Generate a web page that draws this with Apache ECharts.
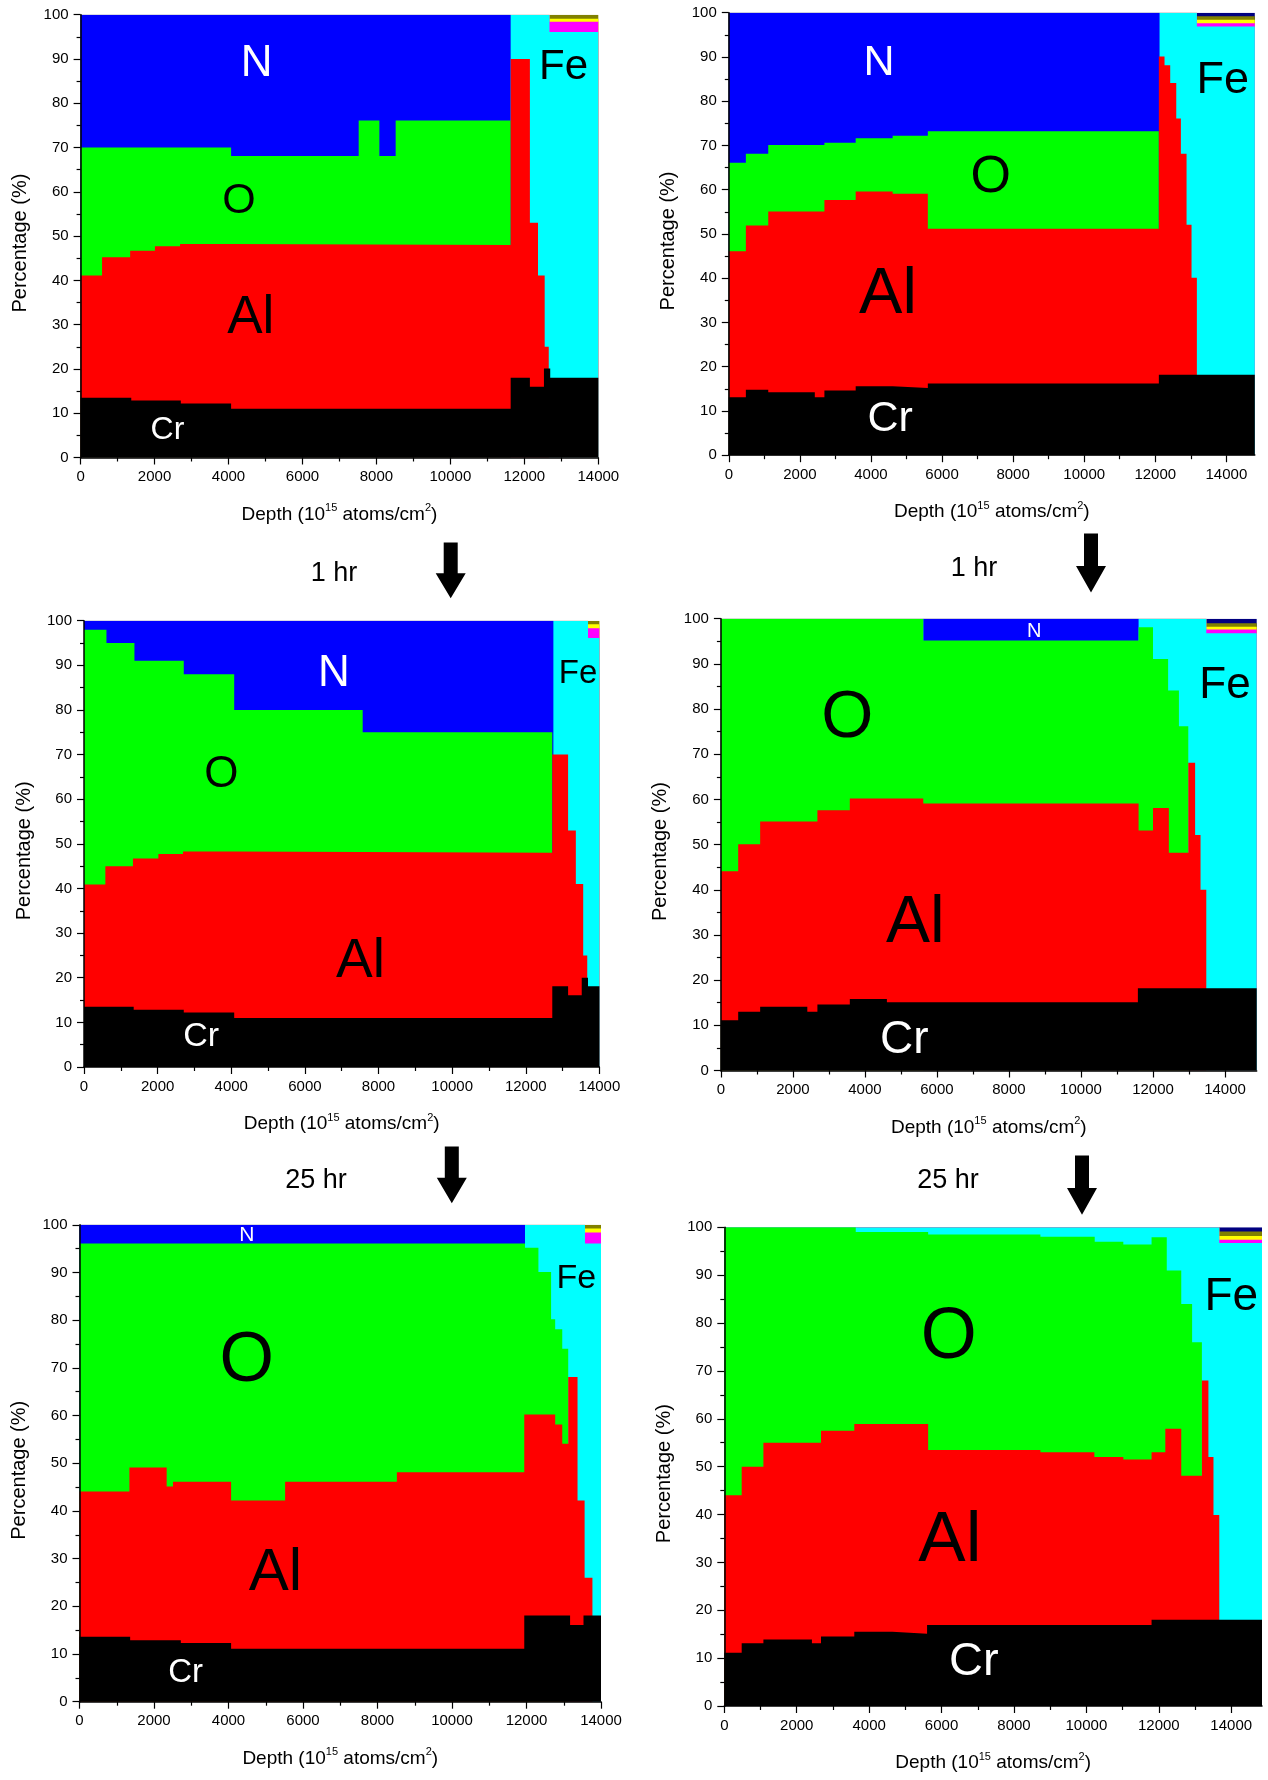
<!DOCTYPE html>
<html>
<head>
<meta charset="utf-8">
<script src="https://cdn.jsdelivr.net/npm/echarts@6/dist/echarts.min.js"></script>
<style>
html, body { margin: 0; padding: 0; background: #fff; }
#chart { width: 1268px; height: 1780px; }
</style>
</head>
<body>
<div id="chart"></div>
<script>
// step profiles: [depth where the step starts, cumulative top of the layer in %]
// panel 1 - as deposited, sample A
const p1Cr = [[0, 13.5], [1370, 12.9], [2710, 12.2], [4070, 11.0], [11630, 18.0], [12150, 16.0], [12530, 20.1], [12700, 18.0]]
const p1Al = [[0, 41.1], [580, 45.2], [1340, 46.7], [2010, 47.7], [2690, 48.2], [4070, 48.0], [11630, 90.0], [12150, 53.0], [12370, 41.1], [12550, 25.0], [12660, 0]]
const p1O = [[0, 70.0], [4070, 68.1], [7520, 76.1], [8080, 68.1], [8520, 76.1], [11630, 0]]
const p1N = [[0, 100], [11630, 0]]
const p1Fe = [[0, 100], [12680, 96.1]]
const p1Magenta = [[0, 100], [12680, 98.4]]
const p1Yellow = [[0, 100], [12680, 99.1]]
const p1Olive = [[0, 100]]

// panel 2 - as deposited, sample B
const p2Cr = [[0, 13.1], [480, 14.8], [1110, 14.2], [2420, 13.1], [2690, 14.6], [3570, 15.6], [4610, 15.2], [5600, 16.2], [12100, 18.2]]
const p2Al = [[0, 46.1], [480, 51.9], [1110, 55.1], [2690, 57.7], [3570, 59.6], [4610, 59.1], [5600, 51.2], [12100, 90.1], [12260, 88.1], [12420, 84.1], [12590, 76.1], [12720, 68.1], [12880, 52.1], [13020, 40.1], [13170, 0]]
const p2O = [[0, 66.1], [480, 68.1], [1110, 70.1], [2690, 70.6], [3570, 71.6], [4610, 72.2], [5600, 73.2], [12100, 0]]
const p2N = [[0, 100], [12120, 0]]
const p2Fe = [[0, 100], [13170, 96.9]]
const p2Magenta = [[0, 100], [13170, 97.6]]
const p2Yellow = [[0, 100], [13170, 98.4]]
const p2Olive = [[0, 100], [13170, 99.2]]
const p2Navy = [[0, 100]]

// panel 3 - sample A after 1 hr
const p3Cr = [[0, 13.5], [1350, 12.8], [2710, 12.2], [4080, 11.0], [12720, 18.1], [13150, 16.1], [13520, 20.0], [13690, 18.1]]
const p3Al = [[0, 40.9], [580, 45.0], [1330, 46.7], [2020, 47.7], [2690, 48.3], [4050, 48.0], [12720, 70.0], [13150, 53.0], [13360, 41.0], [13560, 25.0], [13670, 0]]
const p3O = [[0, 98.0], [610, 95.0], [1370, 91.0], [2710, 88.0], [4080, 80.0], [7570, 75.0], [12720, 0]]
const p3N = [[0, 100], [12750, 0]]
const p3Fe = [[0, 100], [13690, 96.1]]
const p3Magenta = [[0, 100], [13690, 98.3]]
const p3Yellow = [[0, 100], [13690, 99.2]]
const p3Olive = [[0, 100]]

// panel 4 - sample B after 1 hr
const p4Cr = [[0, 11.1], [480, 13.0], [1090, 14.1], [2400, 13.0], [2680, 14.6], [3580, 15.8], [4610, 15.1], [11580, 18.2]]
const p4Al = [[0, 44.1], [480, 50.1], [1090, 55.1], [2680, 57.6], [3580, 60.2], [5620, 59.1], [11600, 53.1], [12000, 58.1], [12440, 48.2], [12980, 68.1], [13170, 52.1], [13320, 40.0], [13480, 0]]
const p4O = [[0, 100], [5620, 95.2], [11600, 98.1], [12000, 91.1], [12420, 84.1], [12720, 76.2], [12980, 0]]
const p4N = [[0, 0], [5620, 100], [11600, 0]]
const p4Fe = [[0, 100], [13480, 96.8]]
const p4Magenta = [[0, 100], [13480, 97.6]]
const p4Yellow = [[0, 100], [13480, 98.2]]
const p4Olive = [[0, 100], [13480, 99.0]]
const p4Navy = [[0, 100]]

// panel 5 - sample A after 25 hr
const p5Cr = [[0, 13.6], [1360, 12.9], [2720, 12.3], [4070, 11.1], [11940, 18.1], [13170, 16.1], [13530, 18.1]]
const p5Al = [[0, 44.1], [1340, 49.1], [2340, 45.1], [2510, 46.1], [4070, 42.2], [5520, 46.1], [8520, 48.1], [11940, 60.2], [12770, 58.1], [12960, 54.1], [13120, 68.1], [13370, 42.2], [13560, 26.0], [13770, 0]]
const p5O = [[0, 96.1], [11960, 95.2], [12320, 90.1], [12660, 80.2], [12770, 78.1], [12960, 74.0], [13120, 0]]
const p5N = [[0, 100], [11960, 0]]
const p5Fe = [[0, 100], [13570, 96.1]]
const p5Magenta = [[0, 100], [13570, 98.4]]
const p5Yellow = [[0, 100], [13570, 99.2]]
const p5Olive = [[0, 100]]

// panel 6 - sample B after 25 hr
const p6Cr = [[0, 11.1], [480, 13.1], [1080, 13.9], [2420, 13.1], [2670, 14.5], [3590, 15.5], [4640, 15.1], [5600, 16.9], [11800, 18.0]]
const p6Al = [[0, 44.0], [480, 50.0], [1080, 55.0], [2670, 57.5], [3590, 58.9], [5630, 53.5], [8730, 53.0], [10220, 52.0], [11020, 51.5], [11800, 53.0], [12180, 57.9], [12620, 48.1], [13190, 68.0], [13370, 52.0], [13510, 39.9], [13670, 0]]
const p6O = [[0, 100], [3630, 99.0], [5630, 98.5], [8730, 98.0], [10230, 97.0], [11020, 96.4], [11800, 97.9], [12220, 91.0], [12620, 84.0], [12920, 76.0], [13190, 0]]
const p6Fe = [[0, 100], [13670, 96.7]]
const p6Magenta = [[0, 100], [13670, 97.4]]
const p6Yellow = [[0, 100], [13670, 98.2]]
const p6Olive = [[0, 100], [13670, 99.1]]
const p6Navy = [[0, 100]]

const xTickLabels = [0, 2000, 4000, 6000, 8000, 10000, 12000, 14000]

const FONT = '"Liberation Sans", Arial, Helvetica, sans-serif'
const COL = {
  Cr: '#000000', Al: '#ff0000', O: '#00ff00', N: '#0000ff', Fe: '#00ffff',
  magenta: '#ff00ff', yellow: '#ffff00', olive: '#808000', navy: '#000080'
}

// layers listed top first, so the lower ones are painted over them
const panels = [
  { grid: [80.6, 14.7, 517.7, 442.8], xMax: 14000,
    layers: [['olive', p1Olive], ['yellow', p1Yellow], ['magenta', p1Magenta], ['Fe', p1Fe], ['N', p1N], ['O', p1O], ['Al', p1Al], ['Cr', p1Cr]],
    labels: [['N', 4760, 89.0, 44, '#fff'], ['O', 4280, 57.9, 43, '#000'], ['Al', 4600, 31.5, 53, '#000'], ['Cr', 2350, 6.2, 32, '#fff'], ['Fe', 13060, 88.0, 42, '#000']] },
  { grid: [728.8, 12.7, 526, 442.5], xMax: 14800,
    layers: [['navy', p2Navy], ['olive', p2Olive], ['yellow', p2Yellow], ['magenta', p2Magenta], ['Fe', p2Fe], ['N', p2N], ['O', p2O], ['Al', p2Al], ['Cr', p2Cr]],
    labels: [['N', 4230, 88.7, 43, '#fff'], ['O', 7370, 62.7, 52, '#000'], ['Al', 4480, 36.2, 65, '#000'], ['Cr', 4540, 8.1, 43, '#fff'], ['Fe', 13900, 84.6, 45, '#000']] },
  { grid: [84, 620.7, 515.4, 446.3], xMax: 14000,
    layers: [['olive', p3Olive], ['yellow', p3Yellow], ['magenta', p3Magenta], ['Fe', p3Fe], ['N', p3N], ['O', p3O], ['Al', p3Al], ['Cr', p3Cr]],
    labels: [['N', 6790, 88.2, 44, '#fff'], ['O', 3730, 65.4, 44, '#000'], ['Al', 7510, 23.6, 55, '#000'], ['Cr', 3180, 6.7, 34, '#fff'], ['Fe', 13420, 88.0, 33, '#000']] },
  { grid: [720.9, 618.7, 535.8, 451.8], xMax: 14880,
    layers: [['navy', p4Navy], ['olive', p4Olive], ['yellow', p4Yellow], ['magenta', p4Magenta], ['Fe', p4Fe], ['N', p4N], ['O', p4O], ['Al', p4Al], ['Cr', p4Cr]],
    labels: [['N', 8700, 97.1, 20, '#fff'], ['O', 3510, 77.9, 67, '#000'], ['Al', 5400, 32.5, 66, '#000'], ['Cr', 5090, 6.6, 46, '#fff'], ['Fe', 14000, 85.2, 44, '#000']] },
  { grid: [79.5, 1224.8, 521.5, 476.9], xMax: 14000,
    layers: [['olive', p5Olive], ['yellow', p5Yellow], ['magenta', p5Magenta], ['Fe', p5Fe], ['N', p5N], ['O', p5O], ['Al', p5Al], ['Cr', p5Cr]],
    labels: [['N', 4490, 97.8, 21, '#fff'], ['O', 4490, 71.2, 70, '#000'], ['Al', 5260, 26.8, 60, '#000'], ['Cr', 2850, 6.0, 33, '#fff'], ['Fe', 13340, 88.8, 34, '#000']] },
  { grid: [724.3, 1227.3, 537.7, 478.7], xMax: 14850,
    layers: [['navy', p6Navy], ['olive', p6Olive], ['yellow', p6Yellow], ['magenta', p6Magenta], ['Fe', p6Fe], ['O', p6O], ['Al', p6Al], ['Cr', p6Cr]],
    labels: [['O', 6200, 76.8, 72, '#000'], ['Al', 6230, 34.3, 71, '#000'], ['Cr', 6890, 9.1, 47, '#fff'], ['Fe', 14000, 85.3, 46, '#000']] }
]

const tickStyle = { color: '#000', width: 1.2 }
const grids = []
const xAxes = []
const yAxes = []
const series = []

panels.forEach((p, i) => {
  grids.push({ left: p.grid[0], top: p.grid[1], width: p.grid[2], height: p.grid[3] })
  const past = p.xMax !== 14000
  xAxes.push({
    type: 'value', gridIndex: i, min: 0, max: p.xMax, interval: 2000, z: 10,
    axisLine: { lineStyle: { color: '#000', width: 1.5 } },
    axisTick: { show: true, length: 7, lineStyle: tickStyle, customValues: past ? xTickLabels : undefined },
    minorTick: { show: true, splitNumber: 2, length: 4, lineStyle: tickStyle },
    axisLabel: {
      color: '#000', fontSize: 15, fontFamily: FONT, margin: 12,
      customValues: past ? xTickLabels : undefined,
      formatter: function(v) { return String(v) }
    },
    splitLine: { show: false },
    name: '{a|Depth (10}{s|15}{a| atoms/cm}{s|2}{a|)}',
    nameLocation: 'middle', nameGap: 45,
    nameTextStyle: {
      rich: {
        a: { fontSize: 19, fontFamily: FONT, color: '#000', lineHeight: 24 },
        s: { fontSize: 11, fontFamily: FONT, color: '#000', lineHeight: 12, verticalAlign: 'top' }
      }
    }
  })
  yAxes.push({
    type: 'value', gridIndex: i, min: 0, max: 100, interval: 10, z: 10,
    axisLine: { show: true, lineStyle: { color: '#000', width: 1.5 } },
    axisTick: { show: true, length: 7, lineStyle: tickStyle },
    minorTick: { show: true, splitNumber: 2, length: 4, lineStyle: tickStyle },
    axisLabel: { color: '#000', fontSize: 15, fontFamily: FONT, margin: 12 },
    splitLine: { show: false },
    name: 'Percentage (%)', nameLocation: 'middle', nameGap: 50,
    nameTextStyle: { fontSize: 20, fontFamily: FONT, color: '#000', padding: [0, 14, 0, 0] }
  })
  p.layers.forEach(([el, pts]) => {
    series.push({
      type: 'line', xAxisIndex: i, yAxisIndex: i, step: 'end',
      symbol: 'none', silent: true, z: 2,
      data: pts.concat([[p.xMax, pts[pts.length - 1][1]]]),
      lineStyle: { width: 0, opacity: 0 },
      areaStyle: { color: COL[el], opacity: 1 }
    })
  })
  series.push({
    type: 'scatter', xAxisIndex: i, yAxisIndex: i, silent: true, z: 5,
    symbolSize: 1, itemStyle: { color: 'rgba(0,0,0,0)', opacity: 1 },
    label: { show: true, position: 'inside', formatter: '{b}', fontFamily: FONT },
    data: p.labels.map(([t, x, y, size, color]) => ({
      name: t, value: [x, y], label: { fontSize: size, color: color }
    }))
  })
})

// black down arrows between the rows
function arrow(cx, top, tip) {
  const head = (tip - top) * 0.45
  const sw = 7, hw = 15
  return {
    type: 'polygon', silent: true,
    shape: { points: [[cx - sw, top], [cx + sw, top], [cx + sw, tip - head], [cx + hw, tip - head], [cx, tip], [cx - hw, tip - head], [cx - sw, tip - head]] },
    style: { fill: '#000' }
  }
}
function note(text, cx, cy) {
  return {
    type: 'text', silent: true, x: cx, y: cy,
    style: { text: text, font: '27px ' + FONT, fill: '#000', align: 'center', verticalAlign: 'middle' }
  }
}

const myChart = echarts.init(document.getElementById('chart'))
myChart.setOption({
  animation: false,
  backgroundColor: '#fff',
  grid: grids,
  xAxis: xAxes,
  yAxis: yAxes,
  series: series,
  graphic: [
    arrow(450.7, 542.6, 598.2), arrow(1091, 533.5, 592.6),
    arrow(451.8, 1146.6, 1203.3), arrow(1082, 1155.6, 1214.7),
    note('1 hr', 334, 574), note('1 hr', 974, 569),
    note('25 hr', 316, 1181), note('25 hr', 948, 1181)
  ]
})
window.addEventListener('resize', function() {
  myChart.resize()
})
</script>
</body>
</html>
